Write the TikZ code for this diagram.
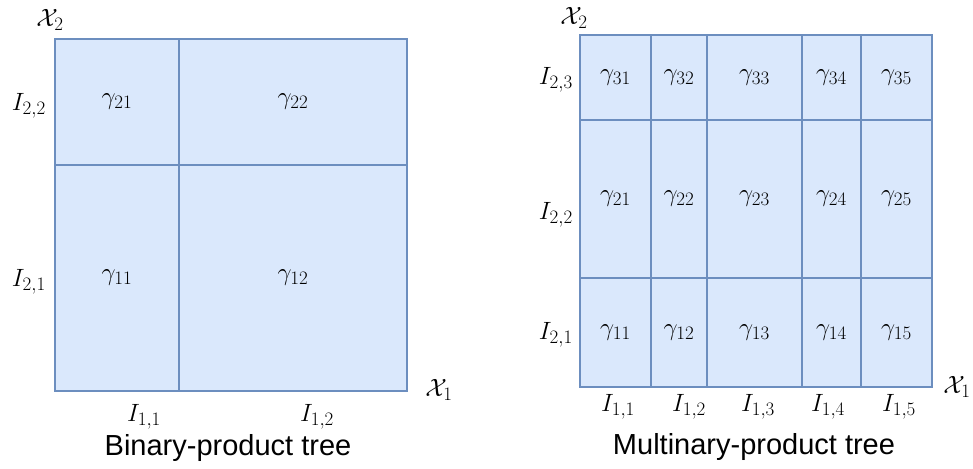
\RequirePackage{fix-cm}
\documentclass[tikz,border=0pt]{standalone}
\usepackage{amsmath, amssymb}
\usepackage{fontspec}
\setsansfont{Liberation Sans}
\DeclareMathSizes{25}{25}{19}{14}
\usepackage{xcolor}
\definecolor{cellfill}{HTML}{DAE8FC}
\definecolor{celldraw}{HTML}{6C8EBF}
\usepackage{tikz}
\usetikzlibrary{positioning}

\begin{document}
\begin{tikzpicture}[
    x=1pt, y=-1pt,
    cell/.style={draw=celldraw, fill=cellfill, line width=1.5pt, inner sep=0pt, font=\fontsize{25}{30}\selectfont},
    axlabel/.style={inner sep=0pt, font=\fontsize{25}{30}\selectfont},
    caption/.style={inner sep=0pt, font=\fontsize{29}{34}\selectfont\sffamily}
]
\useasboundingbox (0,0) rectangle (973,468);

% ==================== BINARY-PRODUCT TREE ====================
\node[cell, minimum width=124pt, minimum height=126pt] (b21) at (117,102) {$\gamma_{21}$};
\node[cell, minimum width=228pt, minimum height=126pt] (b22) at (293,102) {$\gamma_{22}$};
\node[cell, minimum width=124pt, minimum height=226pt] (b11) at (117,278) {$\gamma_{11}$};
\node[cell, minimum width=228pt, minimum height=226pt] (b12) at (293,278) {$\gamma_{12}$};

\node[axlabel] (bx2) at (50,20) {$\mathcal{X}_2$};
\node[axlabel] (bx1) at (439,390) {$\mathcal{X}_1$};
\node[axlabel, anchor=east] (bi22) at (46,106) {$I_{2,2}$};
\node[axlabel, anchor=east] (bi21) at (46,282) {$I_{2,1}$};
\node[axlabel] (bi11) at (144,417) {$I_{1,1}$};
\node[axlabel] (bi12) at (317,417) {$I_{1,2}$};

\node[caption] (bcap) at (228,448) {Binary-product tree};

% ==================== MULTINARY-PRODUCT TREE ====================
\foreach \c/\x/\w in {1/615.5/71, 2/679/56, 3/754.5/95, 4/831.5/59, 5/896.5/71}
  \foreach \r/\y/\h in {3/77.5/85, 2/199/158, 1/332.5/109}
    \node[cell, minimum width=\w pt, minimum height=\h pt] (m\r\c) at (\x,\y) {$\gamma_{\r\c}$};

\node[axlabel] (mx2) at (574,18) {$\mathcal{X}_2$};
\node[axlabel] (mx1) at (957,387) {$\mathcal{X}_1$};
\node[axlabel, anchor=east] (mi23) at (573,80) {$I_{2,3}$};
\node[axlabel, anchor=east] (mi22) at (573,215) {$I_{2,2}$};
\node[axlabel, anchor=east] (mi21) at (573,335) {$I_{2,1}$};
\node[axlabel] (mi11) at (618,407) {$I_{1,1}$};
\node[axlabel] (mi12) at (689,407) {$I_{1,2}$};
\node[axlabel] (mi13) at (758,407) {$I_{1,3}$};
\node[axlabel] (mi14) at (828,407) {$I_{1,4}$};
\node[axlabel] (mi15) at (899,407) {$I_{1,5}$};

\node[caption] (mcap) at (754,447) {Multinary-product tree};

\end{tikzpicture}
\end{document}
